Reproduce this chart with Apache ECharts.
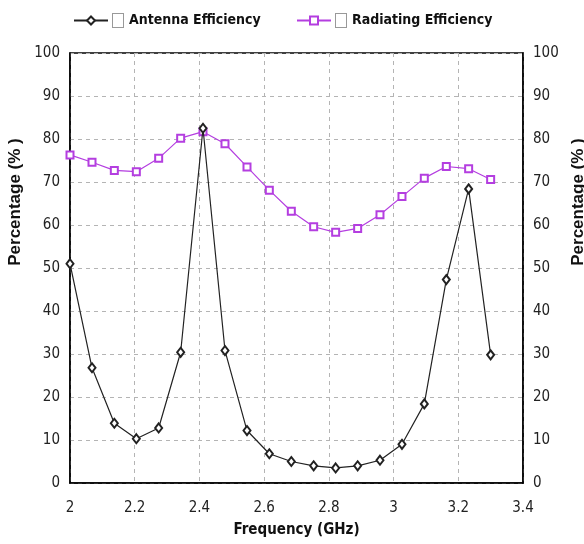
<!DOCTYPE html>
<html>
<head>
<meta charset="utf-8">
<script src="https://cdn.jsdelivr.net/npm/echarts@6/dist/echarts.min.js"></script>
<style>
  html, body { margin: 0; padding: 0; background: #fff; }
  #chart { width: 584px; height: 544px; }
</style>
</head>
<body>
<div id="chart"></div>
<script>
// frequency (GHz) of each sample
const freqs = [2.000, 2.068, 2.137, 2.205, 2.274, 2.342, 2.411, 2.479, 2.547, 2.616,
               2.684, 2.753, 2.821, 2.889, 2.958, 3.026, 3.095, 3.163, 3.232, 3.300]
const antennaEff = [51, 26.8, 13.9, 10.3, 12.8, 30.4, 82.5, 30.8, 12.2, 6.8,
                    5.0, 4.0, 3.5, 4.0, 5.3, 9.0, 18.4, 47.3, 68.4, 29.8]
const radiatingEff = [76.3, 74.6, 72.7, 72.4, 75.5, 80.2, 81.7, 78.9, 73.5, 68.1,
                      63.2, 59.6, 58.3, 59.2, 62.4, 66.6, 70.9, 73.6, 73.1, 70.6]
const seriesNames = ['Antenna Efficiency', 'Radiating Efficiency']

const font = '"DejaVu Sans Condensed", "Liberation Sans", sans-serif'
const purple = '#b43ee0'
const dark = '#222'

const chart = echarts.init(document.getElementById('chart'))

const gridLine = { show: true, lineStyle: { color: '#b4b4b4', type: [4, 4], width: 1 } }
const tickLabel = { color: dark, fontFamily: font, fontSize: 15 }
const axisTitle = { color: '#111', fontFamily: 'Liberation Sans, sans-serif', fontWeight: 'bold', fontSize: 17 }

function yAxis(pos) {
  return {
    type: 'value',
    position: pos,
    min: 0,
    max: 100,
    interval: 10,
    name: 'Percentage (% )',
    nameLocation: 'middle',
    nameGap: pos === 'left' ? 34 : 39,
    nameRotate: 90,
    nameTextStyle: Object.assign({ padding: [0, 0, 0, 132] }, axisTitle),
    axisLine: { show: true, lineStyle: { color: '#000', width: 1.5 } },
    axisTick: { show: false },
    axisLabel: Object.assign({ margin: 10 }, tickLabel),
    splitLine: pos === 'left' ? gridLine : { show: false },
  }
}

function legend(left, name) {
  return {
    top: 8,
    left: left,
    itemWidth: 34,
    itemHeight: 10,
    data: [name],
    formatter: (n) => `{box|}{t|${n}}`,
    textStyle: {
      rich: {
        box: { width: 10, height: 13, borderColor: '#999', borderWidth: 1, backgroundColor: '#fff' },
        t: { color: '#111', fontFamily: font, fontWeight: 'bold', fontSize: 14, padding: [0, 0, 0, 6] },
      },
    },
  }
}

chart.setOption({
  animation: false,
  backgroundColor: '#fff',
  grid: {
    left: 70, right: 61, top: 53, bottom: 61,
    outerBoundsMode: 'none',
    show: true, borderColor: '#000', borderWidth: 1.5,
  },
  legend: [legend(68, seriesNames[0]), legend(291, seriesNames[1])],
  xAxis: {
    type: 'value',
    min: 2,
    max: 3.4,
    interval: 0.2,
    name: 'Frequency (GHz)',
    nameLocation: 'middle',
    nameGap: 40,
    nameTextStyle: Object.assign({}, axisTitle, { fontFamily: font, fontSize: 15 }),
    axisLine: { show: true, lineStyle: { color: '#000', width: 1.5 } },
    axisTick: { show: false },
    axisLabel: Object.assign({ margin: 18, formatter: (v) => String(Math.round(v * 10) / 10) }, tickLabel),
    splitLine: gridLine,
  },
  yAxis: [yAxis('left'), yAxis('right')],
  series: [
    {
      name: seriesNames[0],
      type: 'line',
      data: freqs.map((f, i) => [f, antennaEff[i]]),
      symbol: 'emptyDiamond',
      symbolSize: [7, 9],
      itemStyle: { color: dark, borderWidth: 1 },
      lineStyle: { color: dark, width: 1.2 },
      z: 3,
    },
    {
      name: seriesNames[1],
      type: 'line',
      data: freqs.map((f, i) => [f, radiatingEff[i]]),
      symbol: 'emptyRect',
      symbolSize: 7,
      itemStyle: { color: purple, borderWidth: 1.2 },
      lineStyle: { color: purple, width: 1.2 },
      z: 2,
    },
  ],
})
</script>
</body>
</html>
